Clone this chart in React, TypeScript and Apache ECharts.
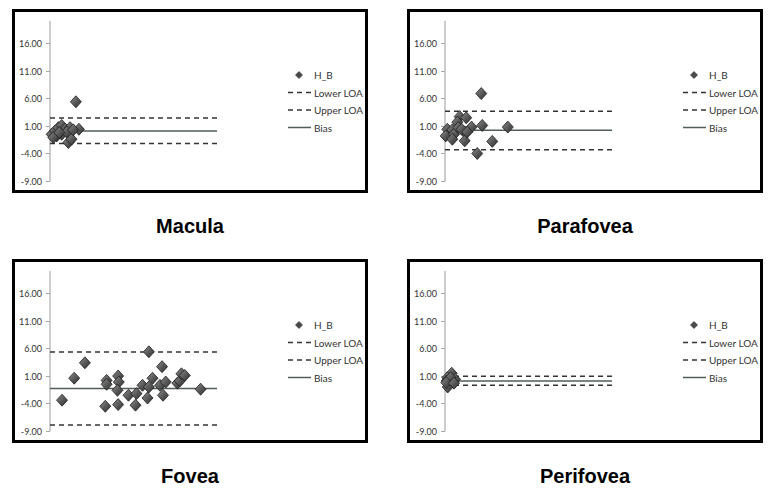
import React, { useEffect, useRef } from "react";
import * as echarts from "echarts";

const X_MAX = 100;
const Y_MIN = -9;
const Y_MAX = 20;
const Y_TICKS = [-9, -4, 1, 6, 11, 16];
const LEGEND_NAMES = ["H_B", "Lower LOA", "Upper LOA", "Bias"];

// [lower LOA, upper LOA, bias]
const maculaLOA = [-2.2, 2.45, 0.1];
const parafoveaLOA = [-3.3, 3.7, 0.25];
const foveaLOA = [-7.9, 5.35, -1.25];
const perifoveaLOA = [-0.7, 0.95, 0.1];

const maculaPoints = [
  [15.5, 5.4], [17.3, 0.4], [1.0, -0.5], [3.0, 0.1], [5.0, 0.7], [7.0, 1.1],
  [9.0, 0.4], [12.0, 0.7], [7.0, -0.5], [10.0, -0.1], [4.0, -0.8], [11.0, -2.0],
  [12.9, -1.4], [2.0, -1.1], [5.6, -0.2], [13.9, 0.3],
];
const parafoveaPoints = [
  [21.7, 6.9], [22.3, 1.1], [37.6, 0.8], [28.3, -1.8], [19.3, -4.0], [8.8, 2.7],
  [12.7, 2.5], [7.4, 1.7], [15.9, 0.8], [11.8, -0.1], [11.8, -1.7], [1.4, 0.4],
  [4.4, 0.3], [0.4, -0.8], [5.4, -0.5], [4.4, -1.4], [8.0, 0.7], [10.0, 0.4],
  [13.3, -0.1],
];
const foveaPoints = [
  [7.2, -3.4], [14.5, 0.6], [20.9, 3.4], [33.1, -4.5], [33.9, 0.2], [33.9, -0.5],
  [40.8, 1.0], [41.2, -0.1], [40.4, -1.6], [40.8, -4.2], [47.0, -2.5], [51.2, -4.3],
  [51.8, -2.2], [55.4, -0.7], [58.4, -3.0], [59.2, -1.0], [59.2, 5.4], [61.4, 0.6],
  [65.9, -0.7], [67.1, 2.7], [67.7, -2.5], [69.3, -0.1], [76.3, -0.3], [77.7, 0.1],
  [78.7, 1.4], [80.7, 1.1], [90.2, -1.4],
];
const perifoveaPoints = [
  [4.0, 1.5], [1.4, 0.7], [1.0, 0.1], [2.4, -0.5], [4.4, 0.1], [6.0, 0.4],
  [3.4, 0.7], [1.6, -1.0], [0.8, -0.2], [5.4, -0.3],
];

const panels = [
  { title: "Macula", points: maculaPoints, loa: maculaLOA, ox: 0, oy: 0 },
  { title: "Parafovea", points: parafoveaPoints, loa: parafoveaLOA, ox: 395, oy: 0 },
  { title: "Fovea", points: foveaPoints, loa: foveaLOA, ox: 0, oy: 250 },
  { title: "Perifovea", points: perifoveaPoints, loa: perifoveaLOA, ox: 395, oy: 250 },
];

const DASH = [5, 4];
const DASH_COLOR = "#333333";
const BIAS_COLOR = "#4f5e59";

const markerColor = new echarts.graphic.LinearGradient(0, 0, 1, 1, [
  { offset: 0, color: "#8e8e8e" },
  { offset: 0.5, color: "#5a5a5a" },
  { offset: 1, color: "#2c2c2c" },
]);

const legendFont = { fontSize: 10, fontFamily: "Lato", fill: "#333" };

function legendGraphic(ox: number, oy: number) {
  const lx0 = 288 + ox;
  const lx1 = 311 + ox;
  const tx = 314 + ox;
  const ys = [75, 92.5, 110, 127.5].map((y) => y + oy);
  const els: any[] = [];
  const mx = 299 + ox;
  const my = ys[0];
  els.push({
    type: "polygon",
    silent: true,
    shape: { points: [[mx, my - 3.5], [mx + 3.5, my], [mx, my + 3.5], [mx - 3.5, my]] },
    style: { fill: "#4a4a4a", stroke: "#222", lineWidth: 0.6 },
  });
  ys.slice(1).forEach((y, k) => {
    els.push({
      type: "line",
      silent: true,
      shape: { x1: lx0, y1: y, x2: lx1, y2: y },
      style: {
        stroke: k === 2 ? BIAS_COLOR : DASH_COLOR,
        lineWidth: 1.5,
        lineDash: k === 2 ? null : DASH,
      },
    });
  });
  ys.forEach((y, k) => {
    els.push({
      type: "text",
      silent: true,
      x: tx,
      y,
      style: {
        ...legendFont,
        text: LEGEND_NAMES[k],
        textAlign: "left",
        textVerticalAlign: "middle",
      },
    });
  });
  return els;
}

export default function App() {
  const ref = useRef<HTMLDivElement>(null);
  useEffect(() => {
    document.body.style.margin = "0";
    const chart = echarts.init(ref.current!, null, { renderer: "svg" });
    const series: any[] = [];
    panels.forEach((p, i) => {
      const [lo, up, bias] = p.loa;
      series.push({
        type: "scatter",
        name: LEGEND_NAMES[0],
        xAxisIndex: i,
        yAxisIndex: i,
        data: p.points,
        symbol: "diamond",
        symbolSize: [11, 12],
        itemStyle: {
          color: markerColor,
          borderColor: "#1e1e1e",
          borderWidth: 0.8,
          opacity: 1,
        },
        z: 4,
      });
      const line = (name: string, v: number, dash: any, color: string) => ({
        type: "line",
        name,
        xAxisIndex: i,
        yAxisIndex: i,
        data: [[0, v], [X_MAX, v]],
        symbol: "none",
        itemStyle: { color },
        lineStyle: { type: dash, color, width: 1.5 },
        z: 2,
      });
      series.push(line(LEGEND_NAMES[1], lo, DASH, DASH_COLOR));
      series.push(line(LEGEND_NAMES[2], up, DASH, DASH_COLOR));
      series.push(line(LEGEND_NAMES[3], bias, "solid", BIAS_COLOR));
    });

    const option: any = {
      animation: false,
      grid: panels.map((p) => ({
        left: 50 + p.ox,
        top: 21.5 + p.oy,
        width: 167,
        height: 159.5,
        outerBoundsMode: "none",
      })),
      xAxis: panels.map((p, i) => ({
        gridIndex: i,
        type: "value",
        min: 0,
        max: X_MAX,
        show: false,
      })),
      yAxis: panels.map((p, i) => ({
        gridIndex: i,
        type: "value",
        min: Y_MIN,
        max: Y_MAX,
        axisLine: { show: true, lineStyle: { color: "#bdbdbd", width: 1.5 } },
        axisTick: {
          show: true,
          length: 4,
          customValues: Y_TICKS,
          lineStyle: { color: "#a8a8a8" },
        },
        axisLabel: {
          customValues: Y_TICKS,
          formatter: (v: number) => v.toFixed(2),
          fontSize: 9,
          fontFamily: "Lato",
          color: "#333",
          margin: 8,
        },
        splitLine: { show: false },
      })),
      graphic: [
        ...panels.map((p) => ({
          type: "rect",
          silent: true,
          shape: { x: 13.5 + p.ox, y: 10.5 + p.oy, width: 353, height: 181 },
          style: { fill: "none", stroke: "#000", lineWidth: 3 },
        })),
        ...panels.map((p) => ({
          type: "text",
          silent: true,
          x: 190 + p.ox,
          y: 226 + p.oy,
          style: {
            text: p.title,
            fontSize: 20,
            fontWeight: "bold",
            fontFamily: "Liberation Sans",
            fill: "#000",
            textAlign: "center",
            textVerticalAlign: "middle",
          },
        })),
        ...panels.flatMap((p) => legendGraphic(p.ox, p.oy)),
      ],
      series,
    };
    chart.setOption(option);
    return () => chart.dispose();
  }, []);
  return <div ref={ref} style={{ width: 772, height: 492 }} />;
}
